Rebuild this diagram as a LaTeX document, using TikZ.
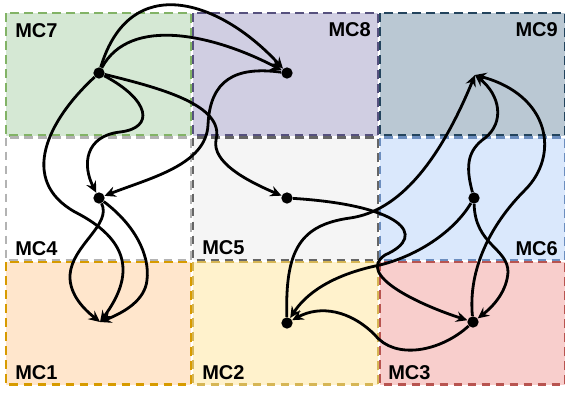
\documentclass[tikz,border=0pt]{standalone}
\usepackage{fontspec}
\setmainfont{Liberation Sans}
\usetikzlibrary{arrows.meta}

\definecolor{greenF}{HTML}{D5E8D4}\definecolor{greenD}{HTML}{82B366}
\definecolor{purpleF}{HTML}{D0CEE2}\definecolor{purpleD}{HTML}{56517E}
\definecolor{steelF}{HTML}{BAC8D3}\definecolor{steelD}{HTML}{23445D}
\definecolor{whiteF}{HTML}{FFFFFF}\definecolor{lightD}{HTML}{B3B3B3}
\definecolor{greyF}{HTML}{F5F5F5}\definecolor{greyD}{HTML}{666666}
\definecolor{blueF}{HTML}{DAE8FC}\definecolor{blueD}{HTML}{6C8EBF}
\definecolor{orangeF}{HTML}{FFE6CC}\definecolor{orangeD}{HTML}{D79B00}
\definecolor{yellowF}{HTML}{FFF2CC}\definecolor{yellowD}{HTML}{D6B656}
\definecolor{redF}{HTML}{F8CECC}\definecolor{redD}{HTML}{B85450}

\begin{document}
\begin{tikzpicture}[x=0.75pt,y=-0.75pt,
    cell/.style={line width=1.6pt,dash pattern=on 6.5pt off 4pt},
    mclabel/.style={font=\bfseries\fontsize{15}{17}\selectfont,inner sep=0pt},
    dot/.style={circle,fill=black,inner sep=0pt,minimum size=8.5pt},
    flow/.style={line width=2.1pt,-{Stealth[length=8.5pt,width=8pt,inset=3pt]}}]
  \useasboundingbox (0,0) rectangle (565,394);

  % cells
  \foreach \col/\row/\fc/\dc in {0/0/greenF/greenD, 1/0/purpleF/purpleD, 2/0/steelF/steelD,
                                 0/1/whiteF/lightD, 1/1/greyF/greyD, 2/1/blueF/blueD,
                                 0/2/orangeF/orangeD, 1/2/yellowF/yellowD, 2/2/redF/redD}
	{
	\draw[cell,fill=\fc,draw=\dc] ({6+187*\col},{13+124.5*\row}) rectangle +(185,122.5);
	}

  \node[mclabel,anchor=base west] (lab7) at (15,37) {MC7};
  \node[mclabel,anchor=base east] (lab8) at (371,36) {MC8};
  \node[mclabel,anchor=base east] (lab9) at (558,36) {MC9};
  \node[mclabel,anchor=base west] (lab4) at (15,255) {MC4};
  \node[mclabel,anchor=base west] (lab5) at (202,254) {MC5};
  \node[mclabel,anchor=base east] (lab6) at (558,255) {MC6};
  \node[mclabel,anchor=base west] (lab1) at (15,379) {MC1};
  \node[mclabel,anchor=base west] (lab2) at (202,379) {MC2};
  \node[mclabel,anchor=base west] (lab3) at (388,379) {MC3};

  % stations
  \node[dot] (mc7) at (99,73) {};
  \node[dot] (mc8) at (287,73) {};
  \coordinate (mc9) at (475,75);
  \node[dot] (mc4) at (99,198) {};
  \node[dot] (mc5) at (287,198) {};
  \node[dot] (mc6) at (474,198) {};
  \coordinate (mc1) at (100,322);
  \node[dot] (mc2) at (287,323) {};
  \node[dot] (mc3) at (473,322) {};

  % flows
  \draw[flow] (mc7) .. controls (130,-30) and (220,0) .. (mc8);
  \draw[flow] (mc7) .. controls (130,15) and (215,35) .. (mc8);
  \draw[flow] (mc8) .. controls (235,66) and (210,80) .. (208,125)
        .. controls (206,165) and (150,178) .. (mc4);
  \draw[flow] (mc7) .. controls (160,88) and (225,105) .. (216,140)
        .. controls (212,162) and (245,180) .. (mc5);
  \draw[flow] (mc7) .. controls (150,100) and (155,128) .. (120,132)
        .. controls (85,136) and (82,165) .. (mc4);
  \draw[flow] (mc7) .. controls (48,120) and (18,180) .. (75,212)
        .. controls (130,240) and (135,275) .. (mc1);
  \draw[flow] (mc4) .. controls (112,225) and (72,245) .. (70,275)
        .. controls (69,295) and (85,310) .. (mc1);
  \draw[flow] (mc4) .. controls (135,225) and (150,255) .. (147,280)
        .. controls (145,300) and (125,312) .. (mc1);
  \draw[flow] (mc5) .. controls (400,205) and (430,235) .. (385,255)
        .. controls (355,275) and (420,305) .. (mc3);
  \draw[flow] (mc2) .. controls (285,250) and (300,225) .. (350,218)
        .. controls (400,211) and (440,160) .. (mc9);
  \draw[flow] (mc6) .. controls (465,165) and (468,150) .. (485,138)
        .. controls (505,122) and (500,95) .. (mc9);
  \draw[flow] (mc3) .. controls (468,270) and (490,225) .. (525,190)
        .. controls (560,155) and (550,95) .. (mc9);
  \draw[flow] (mc6) .. controls (475,245) and (508,248) .. (508,272)
        .. controls (507,290) and (495,305) .. (mc3);
  \draw[flow] (mc6) .. controls (455,230) and (420,255) .. (380,265)
        .. controls (330,275) and (305,295) .. (mc2);
  \draw[flow] (mc3) .. controls (440,352) and (395,360) .. (375,335)
        .. controls (350,310) and (320,305) .. (mc2);
\end{tikzpicture}
\end{document}
